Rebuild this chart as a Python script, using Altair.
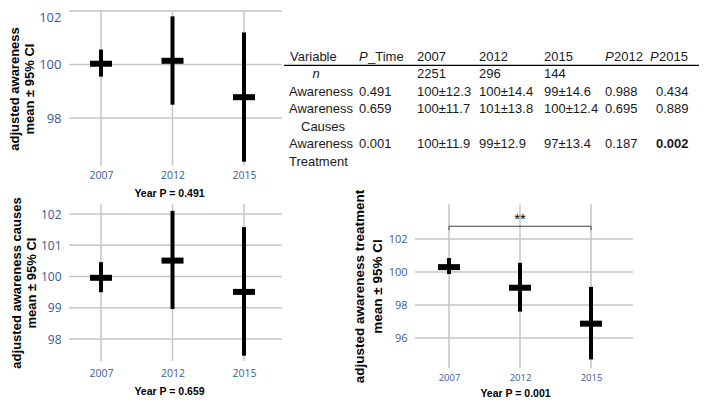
import altair as alt
import pandas as pd

# ---------------- data ----------------
YEARS = ["2007", "2012", "2015"]

# adjusted awareness: mean and 95% CI
AW_MEAN = [100.03, 100.14, 98.78]
AW_LO = [99.55, 98.50, 96.37]
AW_HI = [100.56, 101.80, 101.20]

# adjusted awareness causes
CA_MEAN = [99.96, 100.51, 99.51]
CA_LO = [99.50, 98.96, 97.47]
CA_HI = [100.46, 102.10, 101.58]

# adjusted awareness treatment
TR_MEAN = [100.30, 99.05, 96.87]
TR_LO = [99.88, 97.60, 94.70]
TR_HI = [100.85, 100.56, 99.10]

P_YEAR = ["0.491", "0.659", "0.001"]

# y-axis tick values of each panel
AW_TICKS = [98, 100, 102]
CA_TICKS = [98, 99, 100, 101, 102]
TR_TICKS = [96, 98, 100, 102]

# significance bracket (treatment panel)
SIG_FROM = "2007"
SIG_TO = "2015"
SIG_MID = "2012"
SIG_Y = 102.78
SIG_DROP = 102.55
SIG_TEXT_Y = 103.25
SIG_LABEL = "**"

# table
T_HEADER = ["Variable", "P_Time", "2007", "2012", "2015", "P2012", "P2015"]
T_N = ["n", "", "2251", "296", "144", "", ""]
T_AWARE = ["Awareness", "0.491", "100±12.3", "100±14.4", "99±14.6", "0.988", "0.434"]
T_CAUSES = ["Awareness", "0.659", "100±11.7", "101±13.8", "100±12.4", "0.695", "0.889"]
T_TREAT = ["Awareness", "0.001", "100±11.9", "99±12.9", "97±13.4", "0.187", "0.002"]
T_SUB = ["Causes", "Treatment"]
T_BOLD = [(5, 6)]  # (table line, column) printed in bold

# ---------------- layout / style constants ----------------
LABEL_BLUE = "#3b5a99"
GRID = "#c6c6c6"
TXT_FONT = "Liberation Sans"

# table column x (px, relative to the table view) and line index layout
COL_X = [-125, -56, 2, 64, 129, 190, 241]
HDR_P_X = {1: -56, 5: 190, 6: 235}
SUB_X = [-114, -126]
N_X = -99
RULE_X = (-131, 284)
ROW_RANGE = [45.5, 150.5]


def panel(mean, lo, hi, ytitle, ptext, ydomain, yticks, width, height,
          xrange, ylab, xlab, title_x, ytp, ylh, ytsize, xlp, xtp,
          bracket=False, flush=False):
    df = pd.DataFrame({"year": YEARS, "mean": mean, "lo": lo, "hi": hi})
    xscale = alt.Scale(type="point", domain=YEARS, range=xrange, padding=0)
    xaxis = alt.Axis(
        title=f"Year P = {ptext}", labelAngle=0, domain=False, ticks=False,
        grid=False,
        labelColor=LABEL_BLUE, labelFont="Open Sans", labelFontSize=xlab,
        labelPadding=xlp, titleFont=TXT_FONT, titleFontSize=10.5,
        titleFontWeight="bold", titleColor="black", titlePadding=xtp,
        titleX=title_x,
    )
    yscale = alt.Scale(domain=ydomain, nice=False, zero=False)
    yaxis = alt.Axis(
        title=ytitle, values=yticks, domain=False, ticks=False, grid=False,
        labelColor=LABEL_BLUE,
        labelFont="Open Sans", labelFontSize=ylab, labelPadding=8,
        labelFlush=flush,
        titleFont=TXT_FONT, titleFontSize=ytsize, titleFontWeight="bold",
        titleColor="black", titlePadding=ytp, titleLineHeight=ylh,
    )

    def X(field):
        return alt.X(field, scale=xscale, axis=xaxis)

    def Y(field):
        return alt.Y(field, scale=yscale, axis=yaxis)

    base = alt.Chart(df)
    # grid lines drawn as rules: vertical through each year, horizontal at ticks
    vgrid = base.mark_rule(color=GRID, strokeWidth=1.5).encode(x=X("year:N"))
    hgrid = alt.Chart(pd.DataFrame({"lo": yticks})).mark_rule(
        color=GRID, strokeWidth=1.5
    ).encode(y=Y("lo:Q"))
    ci = base.mark_rule(color="black", strokeWidth=4).encode(
        x=X("year:N"), y=Y("lo:Q"), y2="hi:Q"
    )
    mid = base.mark_tick(color="black", thickness=6, size=22, opacity=1).encode(
        x=X("year:N"), y=Y("mean:Q")
    )
    layers = [hgrid, vgrid, ci, mid]
    if bracket:
        br_df = pd.DataFrame({"year": [SIG_FROM], "year2": [SIG_TO], "lo": [SIG_Y]})
        layers.append(alt.Chart(br_df).mark_rule(color="#444", strokeWidth=1).encode(
            x=X("year:N"), x2="year2:N", y=Y("lo:Q")
        ))
        ends_df = pd.DataFrame({"year": [SIG_FROM, SIG_TO],
                                "lo": [SIG_DROP] * 2, "hi": [SIG_Y] * 2})
        layers.append(alt.Chart(ends_df).mark_rule(color="#444", strokeWidth=1).encode(
            x=X("year:N"), y=Y("lo:Q"), y2="hi:Q"
        ))
        star_df = pd.DataFrame({"year": [SIG_MID], "lo": [SIG_TEXT_Y], "t": [SIG_LABEL]})
        layers.append(alt.Chart(star_df).mark_text(
            font=TXT_FONT, fontSize=15, color="black", baseline="middle"
        ).encode(x=X("year:N"), y=Y("lo:Q"), text="t:N"))
    return alt.layer(*layers).properties(width=width, height=height)


p1 = panel(AW_MEAN, AW_LO, AW_HI, ["adjusted awareness", "mean ± 95% CI"],
           P_YEAR[0], [96.21, 102], AW_TICKS, 213, 155, [32, 175],
           13, 10.5, 100, 2, 15, 13, 4, 8, flush=True)
p2 = panel(CA_MEAN, CA_LO, CA_HI, ["adjusted awareness causes", "mean ± 95% CI"],
           P_YEAR[1], [97.30, 102.32], CA_TICKS, 213, 157,
           [32, 175], 12, 10.5, 100, 2, 15, 13, 7, 8)
p3 = panel(TR_MEAN, TR_LO, TR_HI, ["adjusted awareness treatment", "mean ± 95% CI"],
           P_YEAR[2], [94.18, 104.13], TR_TICKS, 218, 164,
           [34, 176], 11, 9.5, 100, 4, 18, 13.5, 4, 7, bracket=True)

# ---------------- table ----------------
reg, ital, bold = [], [], []
for c, h in enumerate(T_HEADER):
    if h.startswith("P"):
        ital.append({"t": "P", "x": HDR_P_X[c], "row": 0})
        reg.append({"t": h[1:], "x": HDR_P_X[c] + 9, "row": 0})
    else:
        reg.append({"t": h, "x": COL_X[c], "row": 0})
for c, v in enumerate(T_N):
    if c == 0:
        ital.append({"t": v, "x": N_X, "row": 1})
    elif v:
        reg.append({"t": v, "x": COL_X[c], "row": 1})
for line, vals in [(2, T_AWARE), (3, T_CAUSES), (5, T_TREAT)]:
    for c, v in enumerate(vals):
        item = {"t": v, "x": COL_X[c] if c else COL_X[0] - 1, "row": line}
        (bold if (line, c) in T_BOLD else reg).append(item)
reg.append({"t": T_SUB[0], "x": SUB_X[0], "row": 4})
reg.append({"t": T_SUB[1], "x": SUB_X[1], "row": 6})

yrow = alt.Scale(domain=[0, 6], range=ROW_RANGE)


def text_layer(items, align="left", **kw):
    return alt.Chart(pd.DataFrame(items)).mark_text(
        align=align, baseline="middle", font=TXT_FONT, fontSize=13,
        color="#1a1a1a", **kw
    ).encode(
        x=alt.X("x:Q", scale=None, axis=None),
        y=alt.Y("row:Q", scale=yrow, axis=None),
        text="t:N",
    )


t_reg = text_layer(reg)
t_ital_n = text_layer([i for i in ital if i["t"] == "n"], align="center", fontStyle="italic")
t_ital_p = text_layer([i for i in ital if i["t"] == "P"], fontStyle="italic")
t_bold = text_layer(bold, fontWeight="bold")
hdr_rule = alt.Chart(pd.DataFrame({"row": [0.51]})).mark_rule(
    color="black", strokeWidth=1.2
).encode(
    y=alt.Y("row:Q", scale=yrow, axis=None),
    x=alt.value(RULE_X[0]), x2=alt.value(RULE_X[1]),
)
table = alt.layer(hdr_rule, t_reg, t_ital_n, t_ital_p, t_bold).properties(
    width=100, height=155
)

chart = alt.concat(
    p1, table, p2, p3, columns=2,
    spacing={"row": 38, "column": 133}, bounds="flush",
).properties(
    padding={"left": 0, "top": 2, "right": 0, "bottom": 0},
    background="white",
).configure_view(
    stroke=None, strokeWidth=0, strokeOpacity=0
).configure_axis(domain=False, ticks=False, grid=False)

chart.save("out.html", embed_options={"renderer": "svg", "actions": False})
